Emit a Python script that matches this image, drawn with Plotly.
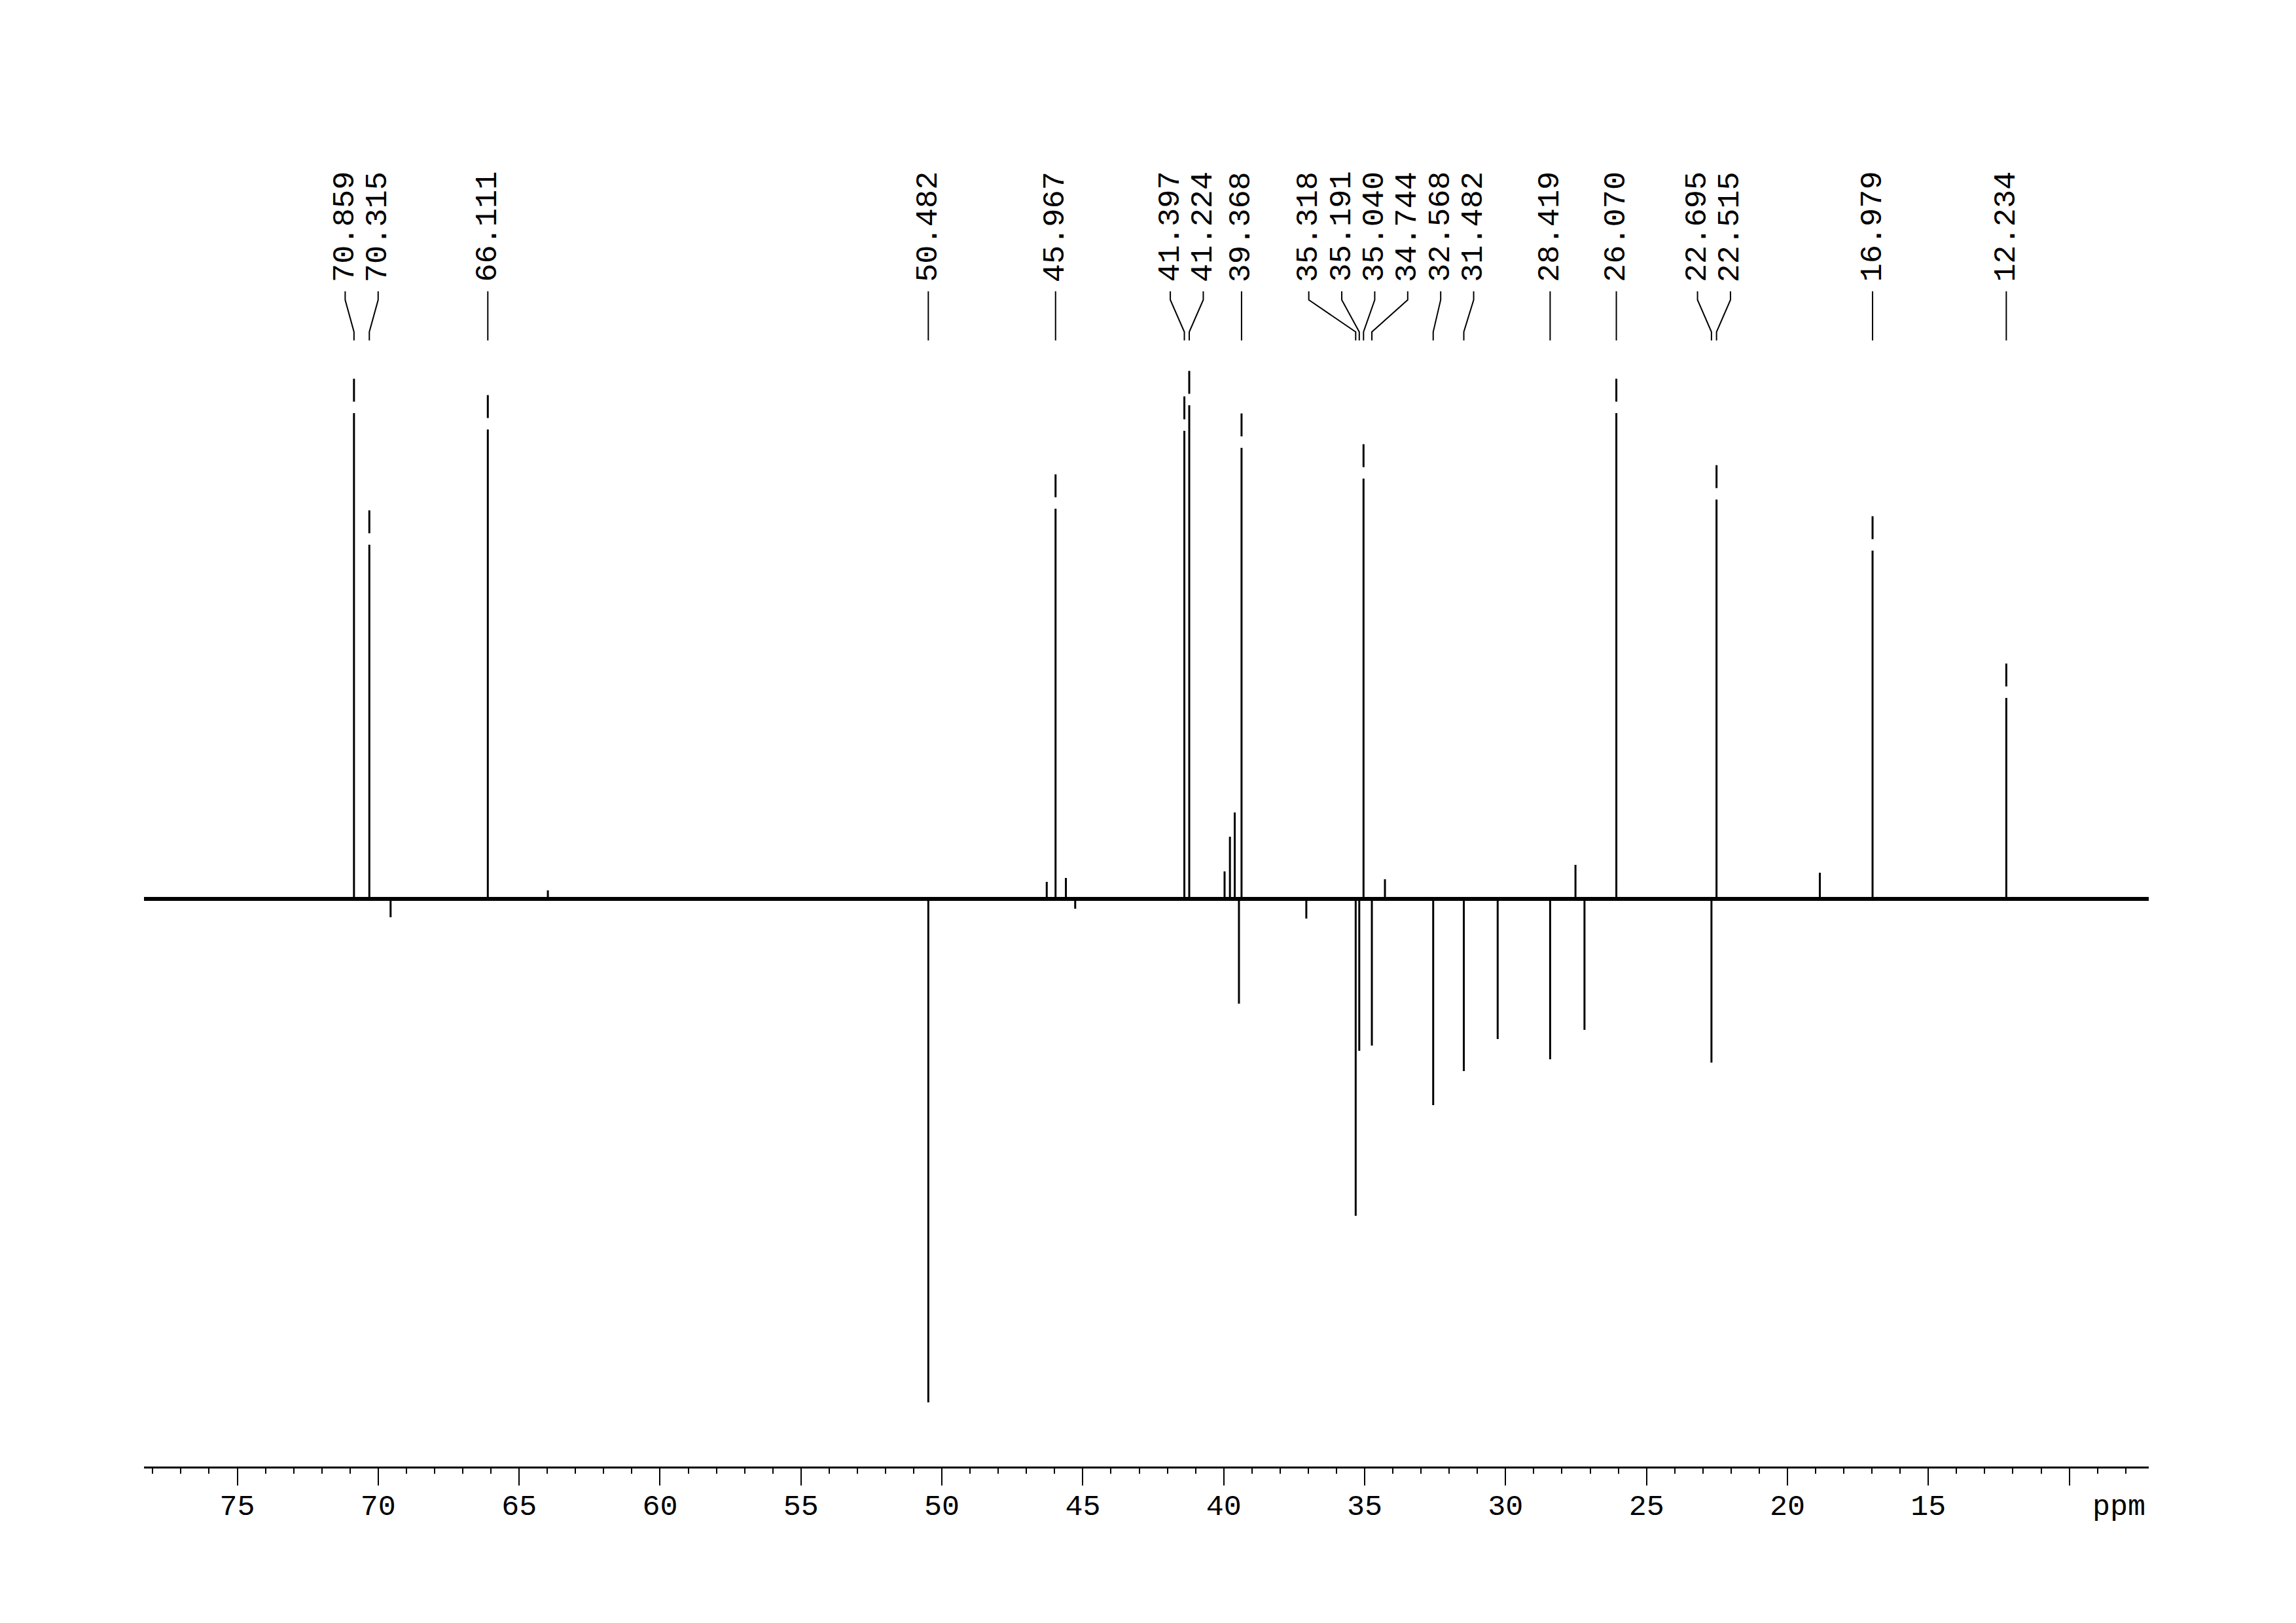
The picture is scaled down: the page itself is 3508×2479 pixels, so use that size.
import plotly.graph_objects as go

# ---------------- data ----------------
# picked / labelled peaks (ppm) and their intensities (arbitrary units, baseline = 0)
label_ppm = [70.859, 70.315, 66.111, 50.482, 45.967, 41.397, 41.224, 39.368,
             35.318, 35.191, 35.040, 34.744, 32.568, 31.482, 28.419, 26.070,
             22.695, 22.515, 16.979, 12.234]
label_int = [742, 541, 717, -769, 596, 715, 754, 689,
             -484, -232, 642, -224, -315, -263, -245, 742,
             -250, 610, 532, 307]

# small unlabelled signals
other_ppm = [69.56, 63.98, 46.28, 45.60, 45.27, 39.97, 39.78, 39.61, 39.46,
             37.07, 34.28, 30.28, 27.52, 27.20, 18.85]
other_int = [-28, 13, 26, 32, -15, 42, 95, 132, -160,
             -30, 30, -214, 52, -200, 40]

tick_vals = [75, 70, 65, 60, 55, 50, 45, 40, 35, 30, 25, 20, 15, 10]
tick_text = ["75", "70", "65", "60", "55", "50", "45", "40", "35", "30",
             "25", "20", "15", ""]

# ---------------- layout constants ----------------
X_LEFT, X_RIGHT = 78.31, 7.18
Y_MIN, Y_MAX = -867, 1223
FONT = "Liberation Mono"
LABEL_GAP = 1.17          # minimum spacing between peak labels (ppm)
PAGE_OFFSET = 8           # default body margin of the html page

# ---------------- spectrum trace ----------------
peaks = sorted(zip(label_ppm + other_ppm, label_int + other_int), key=lambda t: -t[0])
sx, sy = [X_LEFT], [0]
for p, h in peaks:
    sx += [p, p, p]
    sy += [0, h, 0]
sx.append(X_RIGHT)
sy.append(0)

# ---------------- label spreading (avoid overlaps) ----------------
order = sorted(range(len(label_ppm)), key=lambda i: -label_ppm[i])
clusters = [[i] for i in order]


def cluster_pos(cl):
    c = sum(label_ppm[i] for i in cl) / len(cl)
    n = len(cl)
    return [c + LABEL_GAP * ((n - 1) / 2 - j) for j in range(n)]


changed = True
while changed:
    changed = False
    for k in range(len(clusters) - 1):
        a, b = cluster_pos(clusters[k]), cluster_pos(clusters[k + 1])
        if a[-1] - b[0] < LABEL_GAP - 1e-9:
            clusters[k] = clusters[k] + clusters[k + 1]
            del clusters[k + 1]
            changed = True
            break

label_pos = {}
for cl in clusters:
    for i, lp in zip(cl, cluster_pos(cl)):
        label_pos[i] = lp

# connector lines (label -> peak)
cx, cy = [], []
for i, p in enumerate(label_ppm):
    lp = label_pos[i]
    cx += [lp, lp, p, p, None]
    cy += [928, 915, 866, 853, None]

# peak-pick marks above positive labelled peaks
mx = [p for p, h in zip(label_ppm, label_int) if h > 0]
my = [h + 35 for h in label_int if h > 0]

fig = go.Figure()
fig.add_trace(go.Scatter(x=[X_LEFT, X_RIGHT], y=[0, 0], mode="lines",
                         line=dict(color="black", width=6), hoverinfo="skip"))
fig.add_trace(go.Scatter(x=sx, y=sy, mode="lines",
                         line=dict(color="black", width=3)))
fig.add_trace(go.Scatter(x=cx, y=cy, mode="lines",
                         line=dict(color="black", width=2)))
fig.add_trace(go.Scatter(x=mx, y=my, mode="markers",
                         marker=dict(symbol="line-ns", size=25,
                                     line=dict(color="black", width=3))))

annotations = []
for i, p in enumerate(label_ppm):
    annotations.append(dict(
        x=label_pos[i], y=941, xref="x", yref="y", text=f"{p:.3f}",
        textangle=-90, showarrow=False, xanchor="center", yanchor="bottom",
        borderpad=0, font=dict(family=FONT, size=47, color="black")))
annotations.append(dict(
    x=8.24, y=0, xref="x", yref="paper", yshift=-62, text="ppm", showarrow=False,
    xanchor="center", yanchor="middle", font=dict(family=FONT, size=45, color="black")))

fig.update_layout(
    width=3508, height=2479,
    margin=dict(l=220 - PAGE_OFFSET, r=225 + PAGE_OFFSET,
                t=150 - PAGE_OFFSET, b=239 + PAGE_OFFSET),
    paper_bgcolor="white", plot_bgcolor="white",
    showlegend=False,
    annotations=annotations,
    xaxis=dict(
        range=[X_LEFT, X_RIGHT], showgrid=False, zeroline=False,
        showline=True, linecolor="black", linewidth=3,
        tickmode="array", tickvals=tick_vals, ticktext=tick_text,
        ticks="outside", ticklen=26, tickwidth=2, tickcolor="black",
        ticklabelstandoff=-9,
        tickfont=dict(family=FONT, size=45, color="black"),
        minor=dict(tickmode="linear", tick0=0, dtick=1, ticks="outside",
                   ticklen=8, tickwidth=2, tickcolor="black"),
    ),
    yaxis=dict(range=[Y_MIN, Y_MAX], visible=False, showgrid=False, zeroline=False),
)

fig.write_html("out.html")
